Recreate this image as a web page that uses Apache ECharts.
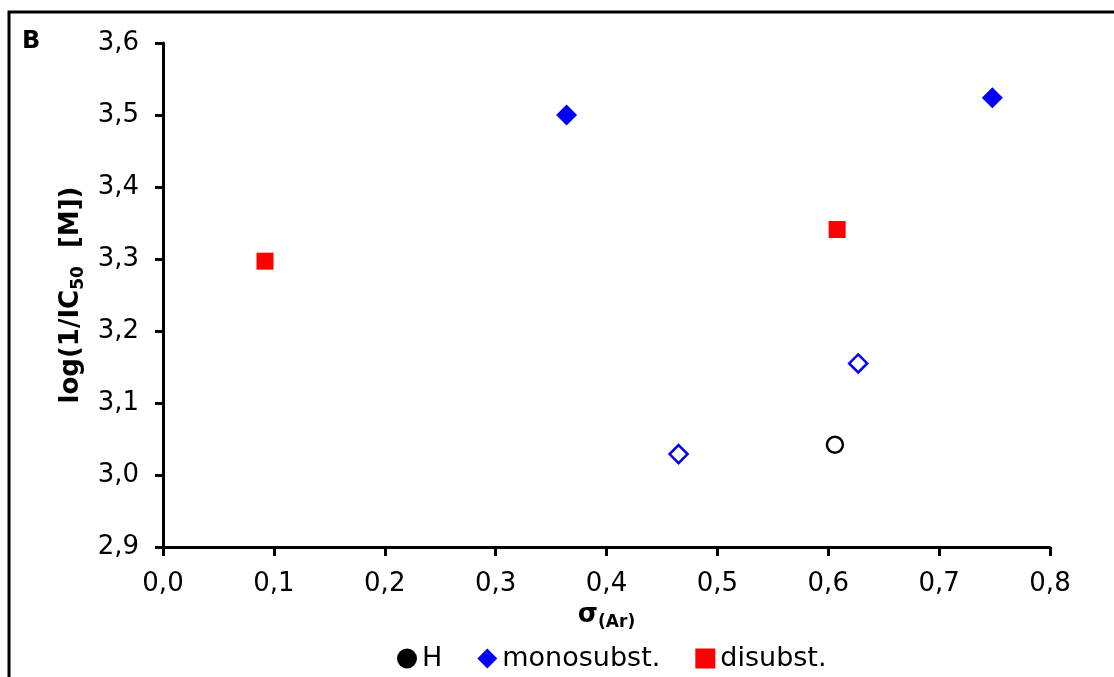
<!DOCTYPE html>
<html>
<head>
<meta charset="utf-8">
<script src="https://cdn.jsdelivr.net/npm/echarts@6/dist/echarts.min.js"></script>
<style>
  html, body { margin: 0; padding: 0; background: #fff; }
  #chart { width: 1114px; height: 677px; }
</style>
</head>
<body>
<div id="chart"></div>
<script>
var chartDom = document.getElementById('chart');
var myChart = echarts.init(chartDom);
var option;

// sigma(Ar) vs log(1/IC50 [M])
var hData = [[0.606, 3.042]];
var monoFilled = [[0.364, 3.50], [0.748, 3.524]];
var monoOpen = [[0.465, 3.029], [0.627, 3.155]];
var diData = [[0.092, 3.297], [0.608, 3.341]];

var legendNames = ['H', 'monosubst.', 'disubst.'];
var xTicks = { min: 0, max: 0.8, step: 0.1 };
var yTicks = { min: 2.9, max: 3.6, step: 0.1 };

var FONT = 'DejaVu Sans';

function comma(v) {
  return v.toFixed(1).replace('.', ',');
}

option = {
  backgroundColor: '#fff',
  animation: false,
  graphic: [
    {
      type: 'rect',
      shape: { x: 9, y: 12, width: 1200, height: 800 },
      style: { fill: 'none', stroke: '#000', lineWidth: 3 },
      silent: true
    },
    {
      type: 'text',
      left: 22,
      top: 30,
      style: { text: 'B', font: 'bold 24px "DejaVu Sans"', fill: '#000' }
    }
  ],
  grid: { left: 163, right: 64, top: 43, bottom: 130 },
  legend: {
    left: 392,
    top: 640,
    itemWidth: 20,
    itemHeight: 20,
    itemGap: 35,
    textStyle: { fontFamily: FONT, fontSize: 27, color: '#000' },
    data: [
      { name: legendNames[0], icon: 'circle', itemStyle: { color: '#000', borderWidth: 0, opacity: 1 } },
      { name: legendNames[1], icon: 'diamond', itemStyle: { color: '#0000ff', borderWidth: 0, opacity: 1 } },
      { name: legendNames[2], icon: 'rect', itemStyle: { color: '#ff0000', borderWidth: 0, opacity: 1 } }
    ]
  },
  xAxis: {
    type: 'value',
    min: xTicks.min,
    max: xTicks.max,
    interval: xTicks.step,
    name: '{b|σ}{s|(Ar)}',
    nameLocation: 'middle',
    nameGap: 52,
    nameTextStyle: {
      rich: {
        b: { fontFamily: FONT, fontWeight: 'bold', fontSize: 26, color: '#000', lineHeight: 32 },
        s: { fontFamily: FONT, fontWeight: 'bold', fontSize: 17, color: '#000', verticalAlign: 'bottom' }
      }
    },
    axisLine: { lineStyle: { color: '#000', width: 3 } },
    axisTick: { show: true, inside: false, length: 9, lineStyle: { color: '#000', width: 3 } },
    axisLabel: { margin: 24, fontFamily: FONT, fontSize: 26, color: '#000', formatter: comma },
    splitLine: { show: false }
  },
  yAxis: {
    type: 'value',
    min: yTicks.min,
    max: yTicks.max,
    interval: yTicks.step,
    name: '{b|log(1/IC}{s|50}{b|  [M])}',
    nameLocation: 'middle',
    nameRotate: 90,
    nameGap: 76,
    nameTextStyle: {
      rich: {
        b: { fontFamily: FONT, fontWeight: 'bold', fontSize: 26, color: '#000', lineHeight: 32 },
        s: { fontFamily: FONT, fontWeight: 'bold', fontSize: 17, color: '#000', verticalAlign: 'bottom' }
      }
    },
    axisLine: { show: true, lineStyle: { color: '#000', width: 3 } },
    axisTick: { show: true, inside: false, length: 8, lineStyle: { color: '#000', width: 3 } },
    axisLabel: { margin: 24, fontFamily: FONT, fontSize: 26, color: '#000', formatter: comma },
    splitLine: { show: false }
  },
  series: [
    {
      name: legendNames[0],
      type: 'scatter',
      data: hData,
      symbol: 'circle',
      symbolSize: 16,
      itemStyle: { color: '#fff', borderColor: '#000', borderWidth: 2.5, opacity: 1 }
    },
    {
      name: legendNames[1],
      type: 'scatter',
      data: monoFilled,
      symbol: 'diamond',
      symbolSize: 21,
      itemStyle: { color: '#0000ff', opacity: 1 }
    },
    {
      name: legendNames[1],
      type: 'scatter',
      data: monoOpen,
      symbol: 'diamond',
      symbolSize: 18,
      itemStyle: { color: '#fff', borderColor: '#0000ff', borderWidth: 2.5, opacity: 1 }
    },
    {
      name: legendNames[2],
      type: 'scatter',
      data: diData,
      symbol: 'rect',
      symbolSize: 17,
      itemStyle: { color: '#ff0000', opacity: 1 }
    }
  ]
};

option && myChart.setOption(option);
</script>
</body>
</html>
